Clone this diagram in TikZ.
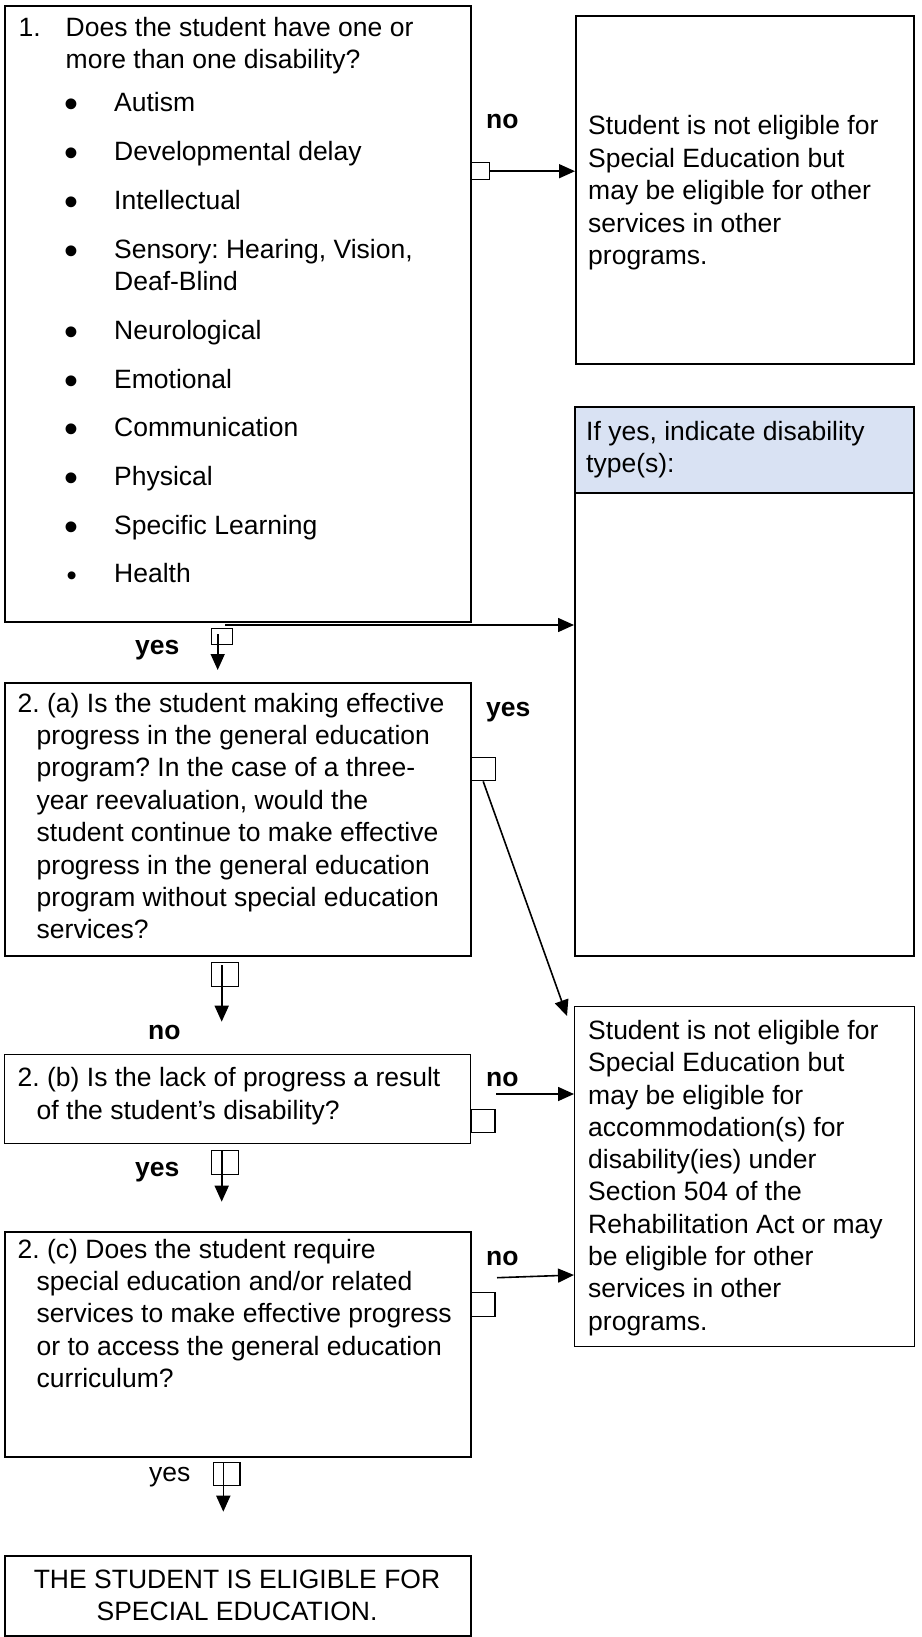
\documentclass[tikz,border=0pt]{standalone}
\usepackage{fontspec}
\setmainfont{Liberation Sans}
\usetikzlibrary{arrows.meta}
\definecolor{hdrblue}{HTML}{D9E2F3}
\frenchspacing
\begin{document}
\begin{tikzpicture}[x=1pt,y=-1pt,
  thickbox/.style={draw, line width=2pt, inner sep=0pt, anchor=north west},
  thinbox/.style={draw, line width=1.4pt, inner sep=0pt, anchor=north west},
  txt/.style={anchor=base west, inner sep=0pt, font=\fontsize{26.5}{32.4}\selectfont},
  lbl/.style={anchor=base west, inner sep=0pt, font=\fontsize{26.5}{32.4}\selectfont\bfseries},
  ctr/.style={anchor=base, inner sep=0pt, font=\fontsize{26.5}{32.4}\selectfont},
  sq/.style={draw, line width=1.4pt, inner sep=0pt, anchor=north west},
  arr/.style={line width=1.6pt, -{Triangle[length=16pt,width=14pt]}},
]
\useasboundingbox (0,0) rectangle (921,1637);

% boxes
\node[thickbox, minimum width=466, minimum height=616] (b1) at (4,5) {};
\node[thickbox, minimum width=338, minimum height=348] (rt) at (575,15) {};
\node[thickbox, fill=hdrblue, minimum width=339, minimum height=86] (hdr) at (574,406) {};
\node[thickbox, minimum width=339, minimum height=463] (bl) at (574,492) {};
\node[thickbox, minimum width=466, minimum height=273] (b2a) at (4,682) {};
\node[thinbox, minimum width=340, minimum height=340] (rb) at (574,1006) {};
\node[thinbox, minimum width=466, minimum height=89] (b2b) at (4,1054) {};
\node[thickbox, minimum width=466, minimum height=225] (b2c) at (4,1231) {};
\node[thickbox, minimum width=466, minimum height=80] (fin) at (4,1555) {};

% small connector squares
\node[sq, minimum width=18.7, minimum height=17] (s1) at (470,162) {};
\node[sq, minimum width=21, minimum height=16.5] (q1) at (211,627.5) {};
\node[sq, minimum width=25, minimum height=23] (s2a) at (470,757) {};
\node[sq, minimum width=26.5, minimum height=23.5] (q2a) at (211,962) {};
\node[sq, minimum width=23.6, minimum height=22.7] (s2b) at (470.7,1109) {};
\node[sq, minimum width=26.5, minimum height=23.5] (q2b) at (211,1150) {};
\node[sq, minimum width=24.3, minimum height=24] (s2c) at (470,1292) {};
\node[sq, minimum width=26.5, minimum height=23] (q2c) at (212.7,1462) {};

% box 1 text
\node[txt] (n1) at (18.5,37) {1.};
\node[txt] (q1l1) at (65.5,37) {Does the student have one or};
\node[txt] (q1l2) at (65.5,69) {more than one disability?};
\foreach \yy/\tt [count=\i] in {112/Autism, 160.5/Developmental delay, 209.5/Intellectual, 258.5/{Sensory: Hearing, Vision,}, 339.5/Neurological, 388/Emotional, 436.5/Communication, 485.5/Physical, 534/Specific Learning}{
  \node[txt] (bu\i) at (64.5,\yy) {\raisebox{-6pt}{\scalebox{1.5}{•}}};
  \node[txt] (it\i) at (114,\yy) {\tt};
}
\node[txt] (it10) at (114,290.5) {Deaf-Blind};
\node[txt] (bu11) at (66.5,582.5) {\raisebox{-2.5pt}{\scalebox{1.1}{•}}};
\node[txt] (it11) at (114,582.5) {Health};

% right top box text
\foreach \tt [count=\i from 0] in {Student is not eligible for, Special Education but, may be eligible for other, services in other, programs.}{
  \node[txt] (rt\i) at (588,135+\i*32.4) {\tt};
}
% header
\node[txt] (h0) at (586,440) {If yes, indicate disability};
\node[txt] (h1) at (586,472.4) {type(s):};

% box 2a text
\node[txt] (a0) at (17.5,712) {2. (a) Is the student making effective};
\foreach \tt [count=\i] in {progress in the general education, program? In the case of a three-, {year reevaluation, would the}, student continue to make effective, progress in the general education, program without special education, services?}{
  \node[txt] (a\i) at (36.5,712+\i*32.4) {\tt};
}

% box 2b text
\node[txt] (bb0) at (17.5,1086.7) {2. (b) Is the lack of progress a result};
\node[txt] (bb1) at (36.5,1119) {of the student’s disability?};

% box 2c text
\node[txt] (c0) at (17.5,1258) {2. (c) Does the student require};
\foreach \tt [count=\i] in {special education and/or related, services to make effective progress, or to access the general education, curriculum?}{
  \node[txt] (c\i) at (36.5,1258+\i*32.4) {\tt};
}

% right bottom box text
\foreach \tt [count=\i from 0] in {Student is not eligible for, Special Education but, may be eligible for, accommodation(s) for, disability(ies) under, Section 504 of the, Rehabilitation Act or may, be eligible for other, services in other, programs.}{
  \node[txt] (rb\i) at (588,1039.6+\i*32.27) {\tt};
}

% final box
\node[ctr] (f0) at (237,1588) {THE STUDENT IS ELIGIBLE FOR};
\node[ctr] (f1) at (237,1620) {SPECIAL EDUCATION.};

% labels
\node[lbl] (l1) at (486,129) {no};
\node[lbl] (l2) at (135,654) {yes};
\node[lbl] (l3) at (486,716) {yes};
\node[lbl] (l4) at (148,1039) {no};
\node[lbl] (l5) at (486,1086.7) {no};
\node[lbl] (l6) at (135,1176) {yes};
\node[lbl] (l7) at (486,1265) {no};
\node[txt] (l8) at (149,1481.7) {yes};

% connectors
\draw[arr] (s1.east) -- (s1.east -| rt.west);
\coordinate (c1) at (225,625);
\draw[arr] (c1) -- (c1 -| bl.west);
\coordinate (c1a) at (217.7,634);
\coordinate (t1) at (217.7,670);
\draw[arr] (c1a) -- (t1);
\coordinate (t2) at (567,1016);
\draw[arr] (s2a.south) -- (t2);
\coordinate (c2) at (221.7,965);
\coordinate (t3) at (221.7,1021.7);
\draw[arr] (c2) -- (t3);
\coordinate (c3) at (496,1094);
\draw[arr] (c3) -- (c3 -| rb.west);
\coordinate (c5) at (221.7,1151);
\coordinate (t5) at (221.7,1201.7);
\draw[arr] (c5) -- (t5);
\coordinate (c4) at (497,1277.7);
\coordinate (t4) at (574,1275);
\draw[arr] (c4) -- (t4);
\coordinate (c6) at (223.3,1463);
\coordinate (t6) at (223.3,1511.7);
\draw[arr] (c6) -- (t6);
\end{tikzpicture}
\end{document}
